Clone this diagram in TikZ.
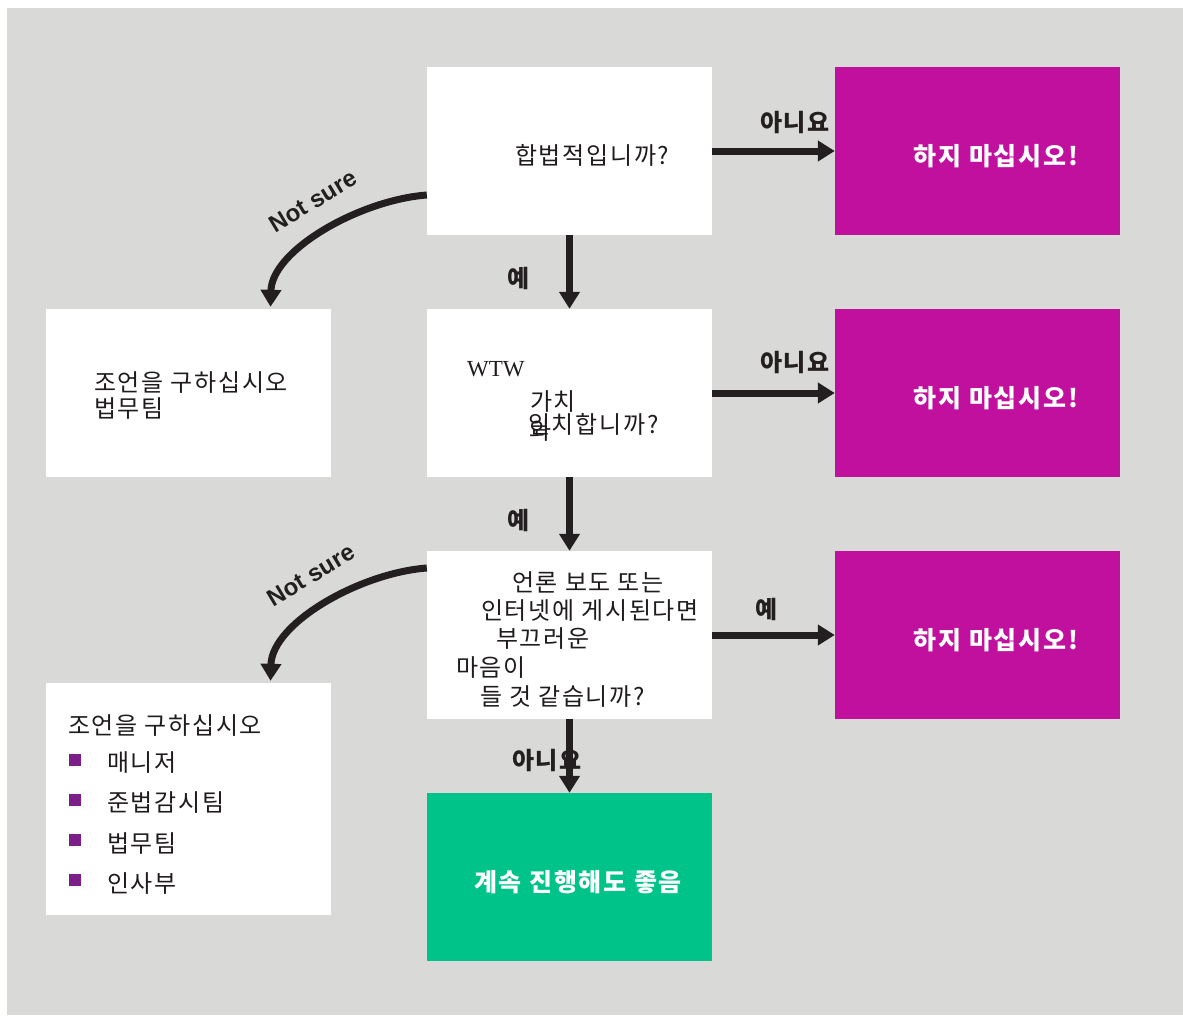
\documentclass[tikz,border=0pt]{standalone}
\usepackage{fontspec}
\setmainfont{Liberation Serif}
\newfontfamily\kr{Noto Sans CJK KR}
\newfontfamily\krs{Noto Sans CJK KR}[LetterSpace=7]
\newfontfamily\arial{Liberation Sans}
\usetikzlibrary{arrows.meta}
\definecolor{bg}{HTML}{D9DAD8}
\definecolor{mag}{HTML}{C0109D}
\definecolor{grn}{HTML}{00C389}
\definecolor{ink}{HTML}{231F20}
\definecolor{bul}{HTML}{7B1E8A}
\begin{document}
\begin{tikzpicture}[x=1pt,y=-1pt,
  box/.style={rectangle, draw=none, fill=white, minimum width=285pt, minimum height=168pt, inner sep=0pt},
  stopbox/.style={box, fill=mag},
  gobox/.style={box, fill=grn},
  txt/.style={inner sep=0pt, anchor=west, font=\krs\fontsize{24}{28}\selectfont, text=ink!90!black},
  wtxt/.style={inner sep=0pt, font=\krs\bfseries\fontsize{25}{29}\selectfont, text=white},
  lbl/.style={inner sep=0pt, anchor=west, font=\krs\bfseries\fontsize{24}{28}\selectfont, text=ink},
  ns/.style={inner sep=0pt, font=\arial\bfseries\fontsize{24}{28}\selectfont, text=ink, rotate=31},
  conn/.style={draw=ink, line width=7pt, -{Triangle[length=17pt,width=20pt]}},
]
\useasboundingbox (0,0) rectangle (1183,1015);
\fill[bg] (7,8) rectangle (1183,1015);

% boxes
\node[box] (a) at (569.5,151) {};
\node[box] (b) at (569.5,393) {};
\node[box] (c) at (569.5,635) {};
\node[gobox] (g) at (569.5,877) {};
\node[stopbox] (m1) at (977.5,151) {};
\node[stopbox] (m2) at (977.5,393) {};
\node[stopbox] (m3) at (977.5,635) {};
\node[box] (l1) at (188.5,393) {};
\node[box, minimum height=232pt] (l2) at (188.5,799) {};

% texts
\node[txt] (ta) at (515,155) {합법적입니까?};
\node[txt, font=\rmfamily\fontsize{23}{27}\selectfont] (tb0) at (467,369) {WTW};
\node[txt] (tb1) at (530,402) {가치};
\node[txt] (tb2) at (529,431) {와};
\node[txt] (tb3) at (528,424) {일치합니까?};
\node[txt] (tc1) at (512,582) {언론 보도 또는};
\node[txt] (tc2) at (481,611) {인터넷에 게시된다면};
\node[txt] (tc3) at (496,639) {부끄러운};
\node[txt] (tc4) at (456,668) {마음이};
\node[txt] (tc5) at (480,697) {들 것 같습니까?};
\node[txt] (tl1a) at (94,383) {조언을 구하십시오};
\node[txt] (tl1b) at (94,408) {법무팀};
\node[txt] (tl2a) at (68,726) {조언을 구하십시오};
\fill[bul] (69,754) rectangle (81,766);
\fill[bul] (69,794) rectangle (81,806);
\fill[bul] (69,834) rectangle (81,846);
\fill[bul] (69,874) rectangle (81,886);
\node[txt] (tl2b) at (107,763) {매니저};
\node[txt] (tl2c) at (107,803) {준법감시팀};
\node[txt] (tl2d) at (107,843) {법무팀};
\node[txt] (tl2e) at (107,883) {인사부};
\node[wtxt] (tm1) at (996,156) {하지 마십시오!};
\node[wtxt] (tm2) at (996,398) {하지 마십시오!};
\node[wtxt] (tm3) at (996,640) {하지 마십시오!};
\node[wtxt] (tg) at (578,882) {계속 진행해도 좋음};

% connectors
\draw[conn] (a.east) -- (m1.west);
\draw[conn] (a.south) -- (b.north);
\draw[conn] (b.east) -- (m2.west);
\draw[conn] (b.south) -- (c.north);
\draw[conn] (c.east) -- (m3.west);
\draw[conn] (c.south) -- (g.north);
\draw[conn] ([yshift=-44pt]a.west) .. controls (360,200) and (272,250) .. ([xshift=82pt,yshift=2pt]l1.north);
\draw[conn] ([yshift=67pt]c.west) .. controls (360,573) and (272,623) .. ([xshift=82pt,yshift=2pt]l2.north);

% labels
\node[lbl] at (760,123) {아니요};
\node[lbl] at (507,278) {예};
\node[lbl] at (760,363) {아니요};
\node[lbl] at (507,520) {예};
\node[lbl] at (755,609) {예};
\node[lbl] at (512,761) {아니요};
\node[ns] at (313,201) {Not sure};
\node[ns] at (311,575) {Not sure};
\end{tikzpicture}
\end{document}
